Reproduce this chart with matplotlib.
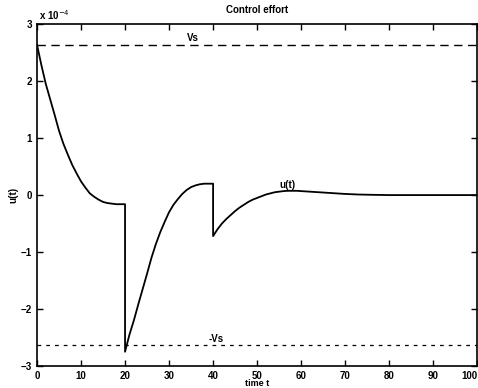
import matplotlib.pyplot as plt
import numpy as np

plt.rcParams['font.family'] = ['Liberation Sans', 'DejaVu Sans']

# control effort u(t), in units of 1e-4
t1 = [0, 1, 2, 3, 4, 5, 6, 7, 8, 9, 10, 11, 12, 13, 14, 15, 16, 17, 18, 19, 20]
u1 = [2.64, 2.28, 1.95, 1.68, 1.41, 1.13, 0.9, 0.71, 0.53, 0.38, 0.24, 0.13,
      0.03, -0.03, -0.08, -0.12, -0.14, -0.15, -0.16, -0.16, -0.16]
t2 = [20, 21, 22, 23, 24, 25, 26, 27, 28, 29, 30, 31, 32, 33, 34, 35, 36, 37,
      38, 39, 40]
u2 = [-2.75, -2.45, -2.2, -1.92, -1.65, -1.38, -1.1, -0.86, -0.65, -0.47, -0.3,
      -0.17, -0.07, 0.02, 0.09, 0.14, 0.17, 0.19, 0.2, 0.2, 0.2]
t3 = [40, 41, 42, 43, 44, 45, 46, 47, 48, 49, 50, 51, 52, 53, 54, 55, 56, 57,
      58, 59, 60, 62, 64, 66, 68, 70, 73, 76, 80, 90, 100]
u3 = [-0.72, -0.6, -0.5, -0.42, -0.35, -0.28, -0.22, -0.17, -0.12, -0.08,
      -0.05, -0.02, 0.01, 0.03, 0.05, 0.06, 0.07, 0.075, 0.075, 0.075, 0.07,
      0.06, 0.05, 0.04, 0.03, 0.02, 0.01, 0.005, 0.0, 0.0, 0.0]
Vs = 2.64

t = t1 + t2 + t3
u = u1 + u2 + u3

fig = plt.figure(figsize=(4.78, 3.88), dpi=100)
ax = fig.add_axes([0.0774, 0.0567, 0.921, 0.881])

ax.plot(t, u, color="black", lw=1.3)
ax.plot([0, 100], [Vs, Vs], color="black", lw=1.0, ls=(0, (6, 4)))
ax.plot([0, 100], [-Vs, -Vs], color="black", lw=0.9, ls=(0, (3, 4)))

ax.text(34, Vs + 0.07, "Vs", fontsize=7, fontweight="bold")
ax.text(39, -Vs + 0.07, "-Vs", fontsize=7, fontweight="bold")
ax.text(55, 0.12, "u(t)", fontsize=7, fontweight="bold")

ax.set_xlim(0, 100)
ax.set_ylim(-3, 3)
ax.set_xticks(np.arange(0, 101, 10))
ax.set_yticks(np.arange(-3, 4, 1))
ax.set_yticklabels(["\u22123", "\u22122", "\u22121", "0", "1", "2", "3"])
ax.tick_params(direction="in", length=4, labelsize=7, width=1, top=True, right=True)
for lab in ax.get_xticklabels() + ax.get_yticklabels():
    lab.set_fontweight("bold")
ax.get_xticklabels()[-1].set_horizontalalignment("right")
for s in ax.spines.values():
    s.set_linewidth(1.2)

ax.set_title("Control effort", fontsize=7, fontweight="bold", pad=8)
ax.set_ylabel("u(t)", fontsize=7, fontweight="bold", labelpad=2)
ax.set_xlabel("time t", fontsize=6.5, fontweight="bold", labelpad=-1)
ax.text(0.005, 1.012, r"x 10$^{-4}$", transform=ax.transAxes, fontsize=7,
        fontweight="bold")

fig.savefig("out.png", dpi=100)
